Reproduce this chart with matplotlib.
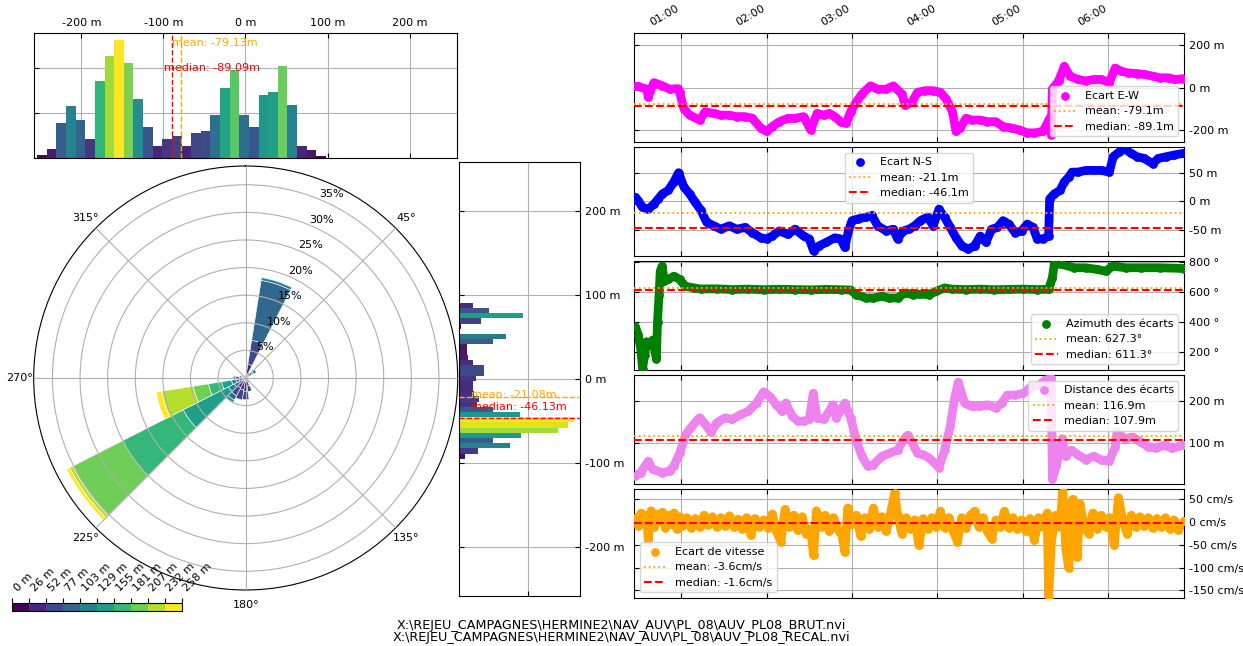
import numpy as np
import matplotlib
matplotlib.use("Agg")
import matplotlib.pyplot as plt
import matplotlib.dates as mdates
import matplotlib.colorbar as mcolorbar
from matplotlib.colors import ListedColormap, BoundaryNorm
from matplotlib.ticker import MultipleLocator, FuncFormatter, FixedLocator
from matplotlib.transforms import blended_transform_factory

plt.rcParams['font.family'] = 'DejaVu Sans'
plt.rcParams['font.size'] = 8
plt.rcParams['xtick.direction'] = 'in'
plt.rcParams['ytick.direction'] = 'in'

# ---------------------------------------------------------------- data
dist_max = 258.3                      # largest offset distance (m)
dist_bins = np.linspace(0, dist_max, 11)

# rose: 20 sectors, frequency (%) per distance class (10 classes)
rose_dirs = [0, 18, 36, 54, 72, 90, 108, 126, 144, 162,
             180, 198, 216, 234, 252, 270, 288, 306, 324, 342]
rose_freq = [
    [0.3, 0.3, 0, 0, 0, 0, 0, 0, 0, 0],
    [0.4, 2.1, 4.4, 11.0, 0.5, 0, 0, 0, 0, 0],
    [0.3, 0.5, 0.3, 0, 0, 0, 0, 0, 0, 0],
    [0.3, 0.4, 0.6, 0.3, 0.6, 0, 0, 0, 0, 0],
    [0.2, 0.3, 0, 0, 0, 0, 0, 0, 0, 0],
    [0.2, 0.2, 0, 0, 0, 0, 0, 0, 0, 0],
    [0.3, 0.2, 0, 0, 0, 0, 0, 0, 0, 0],
    [0.3, 0.3, 0, 0, 0, 0, 0, 0, 0, 0],
    [0.4, 0.5, 0, 0, 0, 0, 0, 0, 0, 0],
    [0.5, 1.0, 1.0, 0, 0, 0, 0, 0, 0, 0],
    [0.6, 1.8, 1.5, 0, 0, 0, 0, 0, 0, 0],
    [0.6, 1.6, 1.8, 0, 0, 0, 0, 0, 0, 0],
    [0.5, 1.5, 1.6, 0.9, 0.5, 0, 0, 0, 0, 0],
    [0.3, 0.5, 0.7, 0.8, 1.2, 9.2, 12.3, 10.2, 0.6, 0.6],
    [0.3, 0.4, 0.5, 0.6, 0.8, 1.8, 2.4, 2.8, 5.8, 1.0],
    [0.4, 0.8, 0.6, 0.4, 0, 0, 0, 0, 0, 0],
    [0.3, 0.5, 0.3, 0, 0, 0, 0, 0, 0, 0],
    [0.3, 0.3, 0, 0, 0, 0, 0, 0, 0, 0],
    [0.2, 0.2, 0, 0, 0, 0, 0, 0, 0, 0],
    [0.2, 0.3, 0, 0, 0, 0, 0, 0, 0, 0],
]
rose_rmax = 38.4

# E-W histogram (30 bins)
ew_lo, ew_hi = -253.9, 98.0
ew_counts = [7, 19, 78, 116, 84, 42, 172, 227, 263, 211, 131, 68, 27, 42, 50,
             26, 56, 59, 96, 155, 195, 96, 70, 139, 147, 204, 117, 27, 17, 5]
ew_mean, ew_median = -79.13, -89.09

# N-S histogram (30 bins, listed from top to bottom)
ns_hi, ns_lo = 90.6, -95.0
ns_counts = [42, 87, 185, 63, 5, 0, 137, 98, 22, 22, 26, 42, 74, 73, 50,
             40, 40, 44, 58, 51, 98, 178, 335, 318, 289, 180, 98, 147, 54, 17]
ns_mean, ns_median = -21.08, -46.13

# time series (minutes after midnight, values)
ew_t = [28, 30, 36, 37, 38.5, 41, 47, 52, 58, 59, 62, 66, 73, 77, 83, 88, 94, 99,
        105, 110, 116, 120, 124, 129, 135, 140, 146, 151, 155.5, 160, 164, 168,
        172, 176, 179, 183, 187, 193, 198, 204, 209, 215, 217.5, 222, 226, 231,
        237, 242, 246, 250.5, 253, 256, 260, 264, 270, 275, 281, 286, 292, 297,
        303, 308, 314, 316.5, 318.7, 319.8, 320.6, 325, 329, 333, 338.5, 344,
        349.5, 355, 360.6, 364.7, 369, 374, 380, 385, 391, 396, 402, 407, 413]
ew_v = [5, 5, -8, -46, -15, 23, 8, -8, -5, -23, -100, -131, -154, -115, -123,
        -131, -131, -138, -138, -146, -192, -208, -185, -162, -146, -146, -138,
        -200, -123, -131, -123, -138, -162, -169, -115, -69, -31, 8, -8, -8, 8,
        -31, -85, -69, -23, -15, -15, -23, -54, -115, -208, -192, -146, -154,
        -154, -162, -162, -185, -192, -200, -215, -215, -208, -177, -146, -223,
        -8, 31, 100, 54, 38, 31, 38, 38, 23, 92, 77, 69, 66, 62, 54, 46, 46, 38, 42]

ns_t = [28, 30, 33, 37, 41, 44, 47, 51, 55, 58.3, 62, 66, 70, 74, 78, 83, 88, 94,
        99, 105, 110, 116, 120, 124, 129, 135, 140, 146, 150, 153, 157, 162, 168,
        172, 175, 177.5, 180, 184, 190, 194, 198, 204, 209, 212, 216, 220, 224,
        228, 233, 237, 241, 245, 249, 253, 257, 261.5, 266, 270, 274, 278, 282,
        286, 290, 294.5, 299, 303, 307, 310, 314, 318, 318.7, 322, 326, 329, 332,
        334.4, 338.5, 344, 349.5, 355, 360.6, 363.3, 367.4, 371.6, 375.7, 380,
        385, 391, 395, 400.5, 406, 413]
ns_v = [7, 1, -11, -14, -5, 4, 13, 19, 34, 50, 25, 13, -2, -16, -37, -43, -49,
        -43, -49, -46, -55, -64, -66, -61, -52, -58, -49, -61, -66, -87, -78,
        -72, -64, -66, -81, -52, -34, -31, -28, -25, -43, -52, -49, -66, -52,
        -49, -43, -34, -28, -43, -14, -28, -46, -64, -78, -84, -78, -61, -72,
        -49, -46, -34, -40, -55, -52, -40, -46, -66, -66, -61, 4, 13, 19, 34, 42,
        51, 51, 54, 54, 54, 51, 78, 86, 92, 84, 78, 75, 66, 75, 78, 81, 84]

az_t = [28, 30, 31.7, 33, 34.4, 35.8, 38.5, 40, 42.7, 43.5, 44.6, 45.4, 46.8,
        48.2, 51, 55, 59, 63, 69, 74, 85, 96, 107, 118, 129, 140, 151, 162, 172,
        179, 183, 190, 195, 201, 206, 212, 217, 223, 228, 234, 239, 245, 250,
        260, 270, 280, 290, 300, 310, 318, 320.6, 322, 327.5, 336, 344, 352, 358,
        363, 372, 383, 396, 413]
az_v = [369, 313, 223, 89, 179, 268, 246, 279, 156, 402, 581, 737, 771, 670,
        682, 704, 682, 637, 626, 619, 620, 615, 618, 614, 617, 615, 613, 616, 614,
        612, 581, 559, 559, 570, 559, 559, 592, 581, 585, 581, 603, 626, 618, 615,
        618, 614, 616, 618, 615, 617, 693, 787, 782, 760, 760, 749, 737, 771, 760,
        760, 760, 755]

di_t = [28, 31.7, 37, 40, 47, 52, 55, 59, 63, 67, 73, 77, 81, 85, 91, 96, 102,
        107, 113, 118, 122.5, 127, 131, 133.5, 138, 142, 146, 150, 152.8, 155.5,
        160, 164, 166.5, 169, 175, 179, 183, 187, 191, 195, 201, 206, 212, 216,
        219, 222, 226, 230, 234, 238, 241, 245, 249, 252, 254.6, 259, 264, 270,
        275, 281, 285, 289, 294.5, 300, 305.5, 311, 316.5, 319.8, 320.6, 323.4,
        327.5, 330, 334, 338.5, 344, 349.5, 355, 360.6, 364.7, 366, 371.6, 377,
        382.6, 388, 393.6, 399, 404.6, 413]
di_v = [22, 29, 56, 37, 29, 33, 45, 75, 118, 137, 160, 145, 125, 148, 160, 156,
        168, 175, 195, 222, 210, 191, 175, 195, 164, 152, 152, 156, 218, 160, 156,
        175, 191, 160, 195, 160, 106, 68, 45, 48, 68, 75, 83, 106, 118, 102, 75,
        72, 64, 52, 41, 83, 141, 206, 245, 195, 187, 187, 191, 183, 195, 214, 214,
        218, 233, 237, 252, 255, 14, 45, 110, 68, 83, 72, 60, 68, 60, 56, 91, 125,
        110, 114, 102, 91, 87, 95, 87, 95]

sp_t = [28, 30, 32, 34, 36, 37, 39, 41, 43, 45, 47, 49, 51, 53, 55, 57, 59, 61,
        64, 67, 70, 73, 76, 79, 82, 85, 88, 91, 94, 97, 100, 103, 106, 109, 112,
        115, 118, 121, 124, 127, 130, 133, 136, 139, 142, 145, 148, 151, 153, 155,
        158, 161, 164, 167, 170, 173, 175, 177, 180, 183, 186, 189, 192, 195, 198,
        201, 204, 207, 210, 212, 215, 218, 221, 224, 227, 230, 233, 236, 239, 242,
        245, 248, 251, 254, 257, 260, 263, 266, 269, 272, 275, 278, 281, 284, 287,
        290, 293, 296, 299, 302, 305, 308, 311, 314, 317, 318, 320, 323, 326, 328,
        330, 332, 335, 338, 340, 343, 346, 349, 352, 355, 358, 361, 364, 367, 370,
        373, 376, 379, 382, 385, 388, 391, 394, 397, 400, 403, 406, 409, 413]
sp_v = [10, -8, 20, -5, 15, -40, 25, -10, 18, 2, 22, -12, 15, -5, 20, -15, 12,
        -8, 10, -12, 8, -10, 15, -6, 12, -10, 10, -8, 14, -10, 6, -14, 10, -28, 8,
        -10, 5, -12, 18, -20, -43, 28, -10, 15, -18, 12, -25, -15, -73, 25, -10,
        15, -20, 10, -15, -30, -66, 31, -5, 15, -30, 10, -15, 31, -10, 12, -20, 18,
        65, 15, -25, 10, -15, 5, -51, 8, -15, 10, -10, 24, -12, 10, -20, -43, 10,
        -12, 15, 24, -10, 10, -20, -36, 5, -10, 24, -12, 10, -15, 5, -20, 8, -40,
        10, -10, 20, -164, -40, 15, -10, 77, -58, -100, 50, -77, 40, -10, -25, 20,
        -15, 15, -10, 10, -51, 54, 5, -25, 15, -10, 12, -8, 10, -12, 8, -10, 10,
        -15, 5, -17, 2]

series_labels = ['Ecart E-W', 'Ecart N-S', 'Azimuth des écarts',
                 'Distance des écarts', 'Ecart de vitesse']
series_mean = [-79.1, -21.1, 627.3, 116.9, -3.6]
series_median = [-89.1, -46.1, 611.3, 107.9, -1.6]
series_unit = ['m', 'm', '°', 'm', 'cm/s']

file_names = [r'X:\REJEU_CAMPAGNES\HERMINE2\NAV_AUV\PL_08\AUV_PL08_BRUT.nvi',
              r'X:\REJEU_CAMPAGNES\HERMINE2\NAV_AUV\PL_08\AUV_PL08_RECAL.nvi']

# ---------------------------------------------------------------- figure
W, H = 1243, 646
fig = plt.figure(figsize=(W / 100, H / 100), dpi=100)


def px_axes(x0, y0, x1, y1, **kw):
    return fig.add_axes([x0 / W, 1 - y1 / H, (x1 - x0) / W, (y1 - y0) / H], **kw)


def unit_fmt(unit):
    return FuncFormatter(lambda x, pos: f'{x:.0f} {unit}')


class_colors = plt.cm.viridis(np.linspace(0, 1, 10))

# ---- rose of offsets
axp = px_axes(33.7, 166, 457.7, 590, projection='polar')
axp.set_theta_zero_location('N')
axp.set_theta_direction(-1)
freq = np.array(rose_freq)
theta = np.deg2rad(rose_dirs)
width = np.deg2rad(360 / len(rose_dirs))
bottom = np.zeros(len(rose_dirs))
for k in range(freq.shape[1]):
    h = freq[:, k]
    m = h > 0
    axp.bar(theta[m], h[m], width=width, bottom=bottom[m], color=class_colors[k],
            edgecolor='white', linewidth=0.4)
    bottom += h
axp.set_ylim(0, rose_rmax)
axp.set_yticks(np.arange(5, 36, 5))
axp.set_yticklabels([f'{v}%' for v in range(5, 36, 5)])
axp.set_rlabel_position(22.5)
axp.set_thetagrids(np.arange(0, 360, 45))
axp.set_axisbelow(False)
axp.grid(True, color='#b0b0b0', lw=0.8)

# ---- E-W histogram
axt = px_axes(33.5, 33, 457.5, 158)
ew_edges = np.linspace(ew_lo, ew_hi, len(ew_counts) + 1)
ew_c = np.array(ew_counts)
axt.bar(ew_edges[:-1], ew_c, width=np.diff(ew_edges), align='edge',
        color=plt.cm.viridis(ew_c / ew_c.max()), zorder=2)
axt.set_xlim(-dist_max, dist_max)
axt.set_ylim(0, 278)
axt.xaxis.set_major_locator(MultipleLocator(100))
axt.xaxis.set_major_formatter(unit_fmt('m'))
axt.yaxis.set_major_locator(FixedLocator([100, 200]))
axt.tick_params(axis='x', top=True, bottom=True, labeltop=True, labelbottom=False)
axt.tick_params(axis='y', left=True, labelleft=False)
axt.grid(True, color='#b0b0b0', lw=0.8)
axt.set_axisbelow(True)
axt.axvline(ew_median, color='red', ls='--', lw=1.0, zorder=3)
axt.axvline(ew_mean, color='orange', ls='--', lw=1.0, zorder=3)
tr = blended_transform_factory(axt.transData, axt.transAxes)
axt.text(ew_mean - 10, 0.92, f'mean: {ew_mean:.2f}m', color='orange', transform=tr,
         ha='left', va='center', zorder=4)
axt.text(ew_median - 10, 0.72, f'median: {ew_median:.2f}m', color='red', transform=tr,
         ha='left', va='center', zorder=4)

# ---- N-S histogram
axr = px_axes(459, 162, 580, 596)
ns_edges = np.linspace(ns_hi, ns_lo, len(ns_counts) + 1)
ns_c = np.array(ns_counts)
axr.barh(ns_edges[1:], ns_c, height=-np.diff(ns_edges), align='edge',
         color=plt.cm.viridis(ns_c / ns_c.max()), zorder=2)
axr.set_ylim(-dist_max, dist_max)
axr.set_xlim(0, 352)
axr.yaxis.set_major_locator(MultipleLocator(100))
axr.yaxis.set_major_formatter(unit_fmt('m'))
axr.xaxis.set_major_locator(FixedLocator([200]))
axr.tick_params(axis='y', left=True, right=True, labelleft=False, labelright=True)
axr.tick_params(axis='x', labelbottom=False)
axr.grid(True, color='#b0b0b0', lw=0.8)
axr.set_axisbelow(True)
axr.axhline(ns_mean, color='orange', ls='--', lw=1.0, zorder=3)
axr.axhline(ns_median, color='red', ls='--', lw=1.0, zorder=3)
tr = blended_transform_factory(axr.transAxes, axr.transData)
axr.text(0.097, ns_mean + 2, f'mean: {ns_mean:.2f}m', color='orange', transform=tr,
         ha='left', va='center', zorder=4)
axr.text(0.097, ns_median + 13, f'median: {ns_median:.2f}m', color='red', transform=tr,
         ha='left', va='center', zorder=4)

# ---- distance colour bar
cax = px_axes(12.3, 603.3, 181.7, 611)
cb = mcolorbar.ColorbarBase(cax, cmap=ListedColormap(class_colors),
                            norm=BoundaryNorm(dist_bins, 10),
                            orientation='horizontal', ticks=dist_bins)
cb.set_ticklabels([f'{b:.0f} m' for b in dist_bins])
cax.xaxis.set_ticks_position('top')
cax.tick_params(axis='x', direction='out')
for lab in cax.get_xticklabels():
    lab.set_rotation(45)
    lab.set_ha('left')

# ---- time series panels
base = np.datetime64('2000-01-01T00:00:00')


def to_time(minutes):
    secs = np.round(np.asarray(minutes, dtype=float) * 60).astype('int64')
    return base + secs.astype('timedelta64[s]')


series = [
    (ew_t, ew_v, '#ff00ff', (-dist_max, dist_max), 200, 'lower right'),
    (ns_t, ns_v, '#0000ff', (-96, 95), 50, 'upper center'),
    (az_t, az_v, '#008000', (80, 805), 200, 'lower right'),
    (di_t, di_v, '#ee82ee', (2, 262), 100, 'upper right'),
    (sp_t, sp_v, '#ffa500', (-167, 73), 50, 'lower left'),
]
tops = [33, 147, 261, 375, 489]
t0, t1 = to_time([27, 413])
for i, (t, v, col, ylim, step, loc) in enumerate(series):
    ax = px_axes(634, tops[i], 1184, tops[i] + 109)
    tt = to_time(t)
    ax.plot(tt, v, '-', color=col, lw=6.3, solid_capstyle='round',
            solid_joinstyle='round', zorder=2)
    ax.scatter(tt, v, s=40, color=col, linewidths=0, zorder=3,
               label=series_labels[i])
    u = series_unit[i]
    ax.axhline(series_mean[i], color='orange', ls=':', lw=1.3, zorder=4,
               label=f'mean: {series_mean[i]:.1f}{u}')
    ax.axhline(series_median[i], color='red', ls='--', lw=1.5, zorder=4,
               label=f'median: {series_median[i]:.1f}{u}')
    ax.set_xlim(t0, t1)
    ax.set_ylim(*ylim)
    ax.yaxis.set_major_locator(MultipleLocator(step))
    ax.yaxis.set_major_formatter(unit_fmt(u))
    ax.tick_params(axis='y', left=True, right=True, labelleft=False, labelright=True)
    ax.xaxis.set_major_locator(mdates.HourLocator())
    ax.xaxis.set_major_formatter(mdates.DateFormatter('%H:%M'))
    ax.tick_params(axis='x', top=True, bottom=True, labelbottom=False,
                   labeltop=(i == 0))
    if i == 0:
        for lab in ax.get_xticklabels():
            lab.set_rotation(30)
            lab.set_ha('right')
    ax.grid(True, color='#b0b0b0', lw=0.8)
    ax.set_axisbelow(True)
    ax.legend(loc=loc, fontsize=8, scatterpoints=1, framealpha=0.8)

for k, name in enumerate(file_names):
    fig.text(0.5, 1 - (625 + 13 * k) / H, name, ha='center', va='center', fontsize=9.2)

fig.savefig('out.png', dpi=100)
